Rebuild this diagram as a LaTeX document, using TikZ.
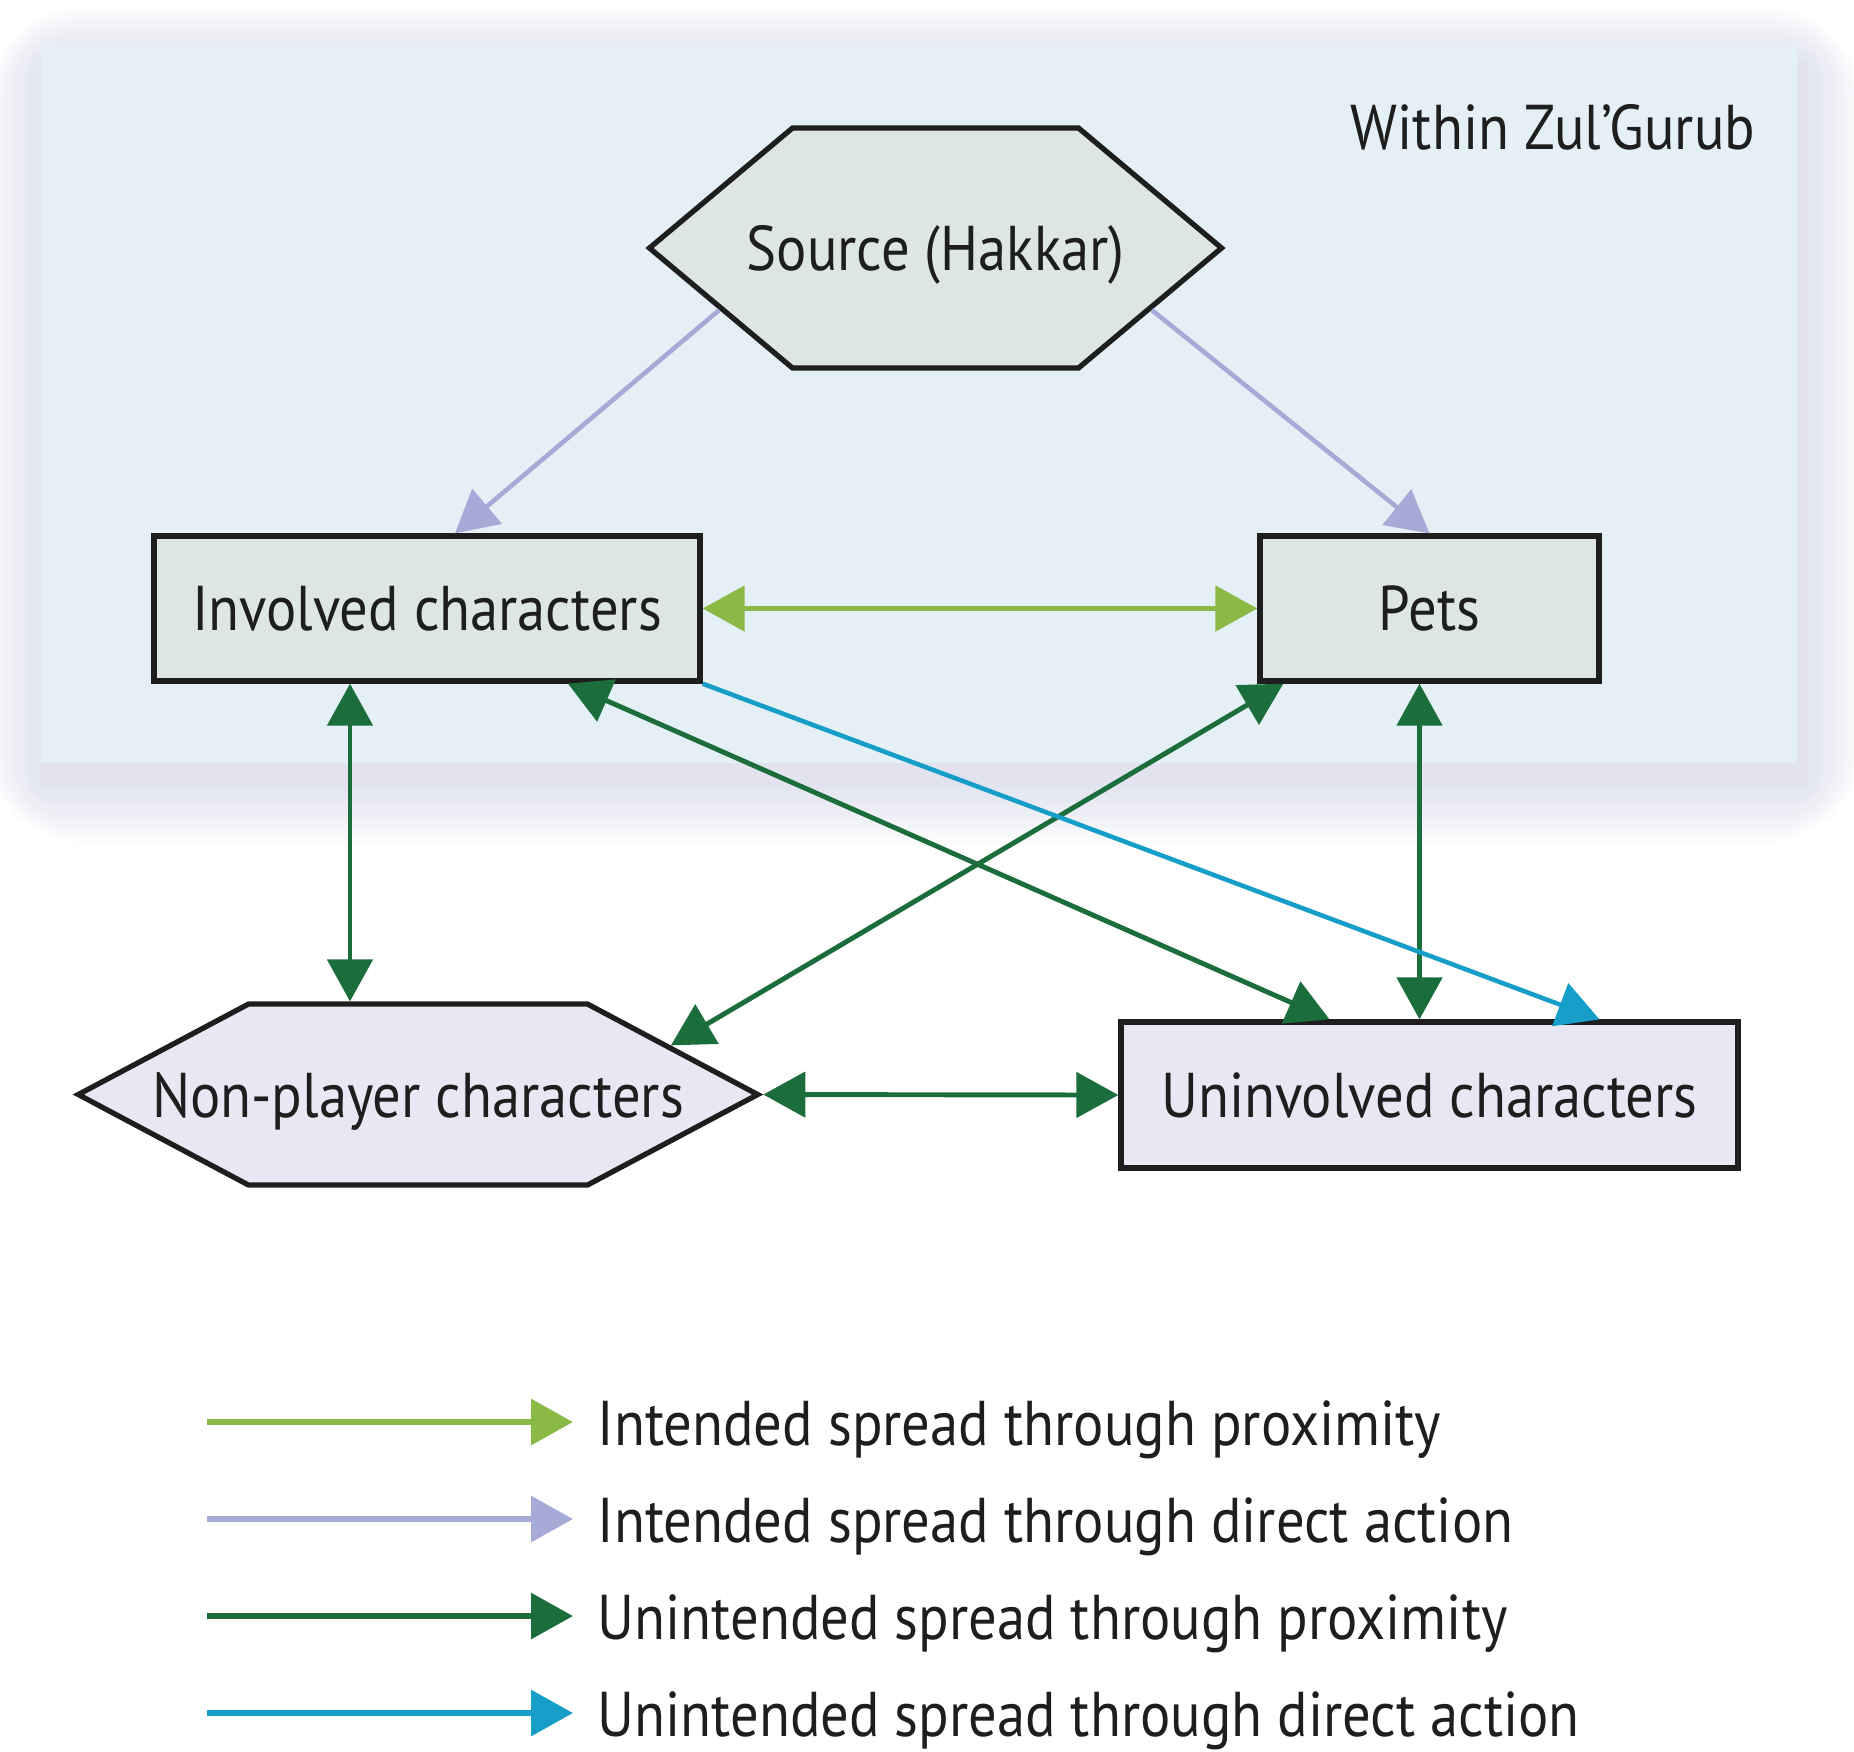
\documentclass[tikz,border=0pt]{standalone}
\usepackage{fontspec}
\setmainfont{PT Sans}[FakeStretch=0.895]
\usepackage{tikz}
\usetikzlibrary{shapes.symbols, arrows.meta, positioning, backgrounds}
\definecolor{zoneblue}{RGB}{228,240,246}
\definecolor{zoneshadow}{RGB}{186,190,218}
\definecolor{insidegrey}{RGB}{222,230,226}
\definecolor{outsidelilac}{RGB}{232,232,244}
\definecolor{proxgreen}{RGB}{138,186,69}
\definecolor{directlilac}{RGB}{166,170,214}
\definecolor{unproxgreen}{RGB}{27,110,60}
\definecolor{undirectblue}{RGB}{22,158,200}
\definecolor{inktext}{RGB}{30,30,30}

\begin{document}
\begin{tikzpicture}[
    >={Triangle[length=4.2mm, width=4.5mm]},
    box/.style={rectangle, draw=inktext, line width=1.5pt, minimum height=1.45cm, inner sep=0pt, text depth=0pt, text=inktext, font=\fontsize{18pt}{20pt}\selectfont},
    hexa/.style={signal, signal to=east and west, draw=inktext, line width=1.5pt, inner sep=0pt, text depth=0pt, text=inktext, font=\fontsize{18pt}{20pt}\selectfont},
    legtext/.style={anchor=base west, inner sep=0pt, text=inktext, font=\fontsize{18pt}{20pt}\selectfont},
    direct/.style={->, line width=1.3pt, color=directlilac},
    prox/.style={<->, line width=1.4pt, color=proxgreen},
    unprox/.style={<->, line width=1.4pt, color=unproxgreen},
    undirect/.style={->, line width=1.3pt, color=undirectblue},
]
\useasboundingbox (0,0) rectangle (18.54,-17.51);

% === Zone: inside the raid ===
\node[rectangle, fill=zoneblue, minimum width=17.56cm, minimum height=7.16cm, inner sep=0pt] (zone) at (9.19,-4.05) {};
\node[anchor=east, inner sep=0pt, text=inktext, font=\fontsize{18pt}{20pt}\selectfont] (zonelabel) at (17.56,-1.27) {Within Zul’Gurub};

% === Nodes ===
\node[hexa, fill=insidegrey, minimum height=2.40cm, signal pointer angle=80] (src) at (9.355,-2.48) {\makebox[2.86cm]{Source (Hakkar)}};
\node[box, fill=insidegrey, minimum width=5.46cm] (inv) at (4.27,-6.085) {Involved characters};
\node[box, fill=insidegrey, minimum width=3.39cm] (pets) at (14.295,-6.085) {Pets};
\node[hexa, fill=outsidelilac, minimum height=1.81cm, signal pointer angle=56] (npc) at (4.18,-10.945) {\makebox[3.39cm]{Non-player characters}};
\node[box, fill=outsidelilac, minimum width=6.17cm, minimum height=1.46cm] (unv) at (14.295,-10.95) {Uninvolved characters};

% === Arrows: Source -> Inside ===
\draw[direct] (src.196) -- ([xshift=0.28cm]inv.north);
\draw[direct] (src.344) -- (pets.north);

% === Arrows: spread ===
\draw[prox] (inv.east) -- (pets.west);
\draw[unprox] ([xshift=-0.77cm]inv.south) -- ([xshift=-0.77cm]inv.south |- npc.north);
\draw[unprox] ([xshift=1.41cm]inv.south) -- ([xshift=-1.0cm]unv.north);
\draw[unprox] ([xshift=0.26cm]pets.south west) -- (npc.11);
\draw[unprox] ([xshift=-0.1cm]pets.south) -- ([xshift=-0.1cm]unv.north);
\draw[unprox] (npc.east) -- (unv.west);
\draw[undirect] (inv.south east) -- ([xshift=1.7cm]unv.north);

% === Legend ===
\foreach \col/\txt [count=\i] in {proxgreen/Intended spread through proximity, directlilac/Intended spread through direct action, unproxgreen/Unintended spread through proximity, undirectblue/Unintended spread through direct action} {
    \node[legtext] (leg\i) at (5.97,{-14.45-0.97*(\i-1)}) {\txt};
    \coordinate (legstart\i) at (2.07,{-14.22-0.97*(\i-1)});
    \coordinate (legend\i) at (5.73,{-14.22-0.97*(\i-1)});
    \draw[->, line width=1.8pt, color=\col] (legstart\i) -- (legend\i);
}

% === Zone shadow ===
\begin{scope}[on background layer]
    \foreach \k in {1,...,20}
        \fill[zoneshadow, opacity=0.026, rounded corners=\k*0.5mm] ([shift={(-0.03*\k+0.05,-0.03*\k-0.2)}]zone.south west) rectangle ([shift={(0.03*\k+0.05,0.03*\k-0.2)}]zone.north east);
\end{scope}

\end{tikzpicture}
\end{document}
